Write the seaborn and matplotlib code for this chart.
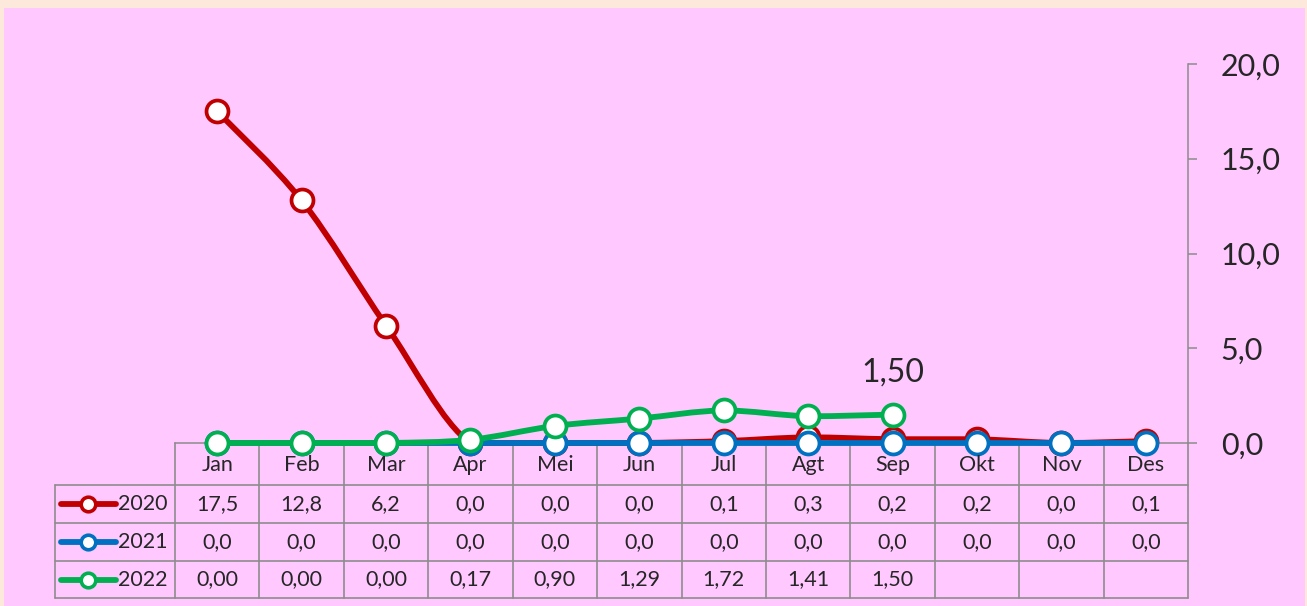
import numpy as np
import seaborn as sns
import matplotlib.pyplot as plt
import matplotlib.transforms as mtrans
from matplotlib.path import Path
from matplotlib.patches import PathPatch, Rectangle
from matplotlib.lines import Line2D
from matplotlib.ticker import FuncFormatter

# data
months = ["Jan", "Feb", "Mar", "Apr", "Mei", "Jun", "Jul", "Agt", "Sep", "Okt", "Nov", "Des"]
y2020 = [17.5, 12.8, 6.2, 0.0, 0.0, 0.0, 0.1, 0.3, 0.2, 0.2, 0.0, 0.1]
y2021 = [0.0, 0.0, 0.0, 0.0, 0.0, 0.0, 0.0, 0.0, 0.0, 0.0, 0.0, 0.0]
y2022 = [0.00, 0.00, 0.00, 0.17, 0.90, 1.29, 1.72, 1.41, 1.50]
series = [("2020", y2020, "#C00000", 1), ("2021", y2021, "#0070C0", 1), ("2022", y2022, "#00B050", 2)]

W, H = 1307, 606
GRID = "#8C8C8C"
FS = 15.5

sns.set_style("white")
plt.rcParams["font.family"] = ["Lato", "DejaVu Sans"]


def smooth_path(xs, ys):
    # catmull-rom style bezier, like excel's smoothed line; control points
    # kept inside each segment's y range so flat parts don't dip
    pts = np.column_stack([xs, ys]).astype(float)
    n = len(pts)
    verts = [pts[0]]
    codes = [Path.MOVETO]
    for i in range(n - 1):
        p0 = pts[i - 1] if i > 0 else pts[i]
        p1, p2 = pts[i], pts[i + 1]
        p3 = pts[i + 2] if i + 2 < n else p2
        c1 = p1 + (p2 - p0) / 6
        c2 = p2 - (p3 - p1) / 6
        lo, hi = min(p1[1], p2[1]), max(p1[1], p2[1])
        c1[1] = np.clip(c1[1], lo, hi)
        c2[1] = np.clip(c2[1], lo, hi)
        verts += [c1, c2, p2]
        codes += [Path.CURVE4] * 3
    return Path(verts, codes)


def fmt(v, d):
    return f"{v:.{d}f}".replace(".", ",")


fig = plt.figure(figsize=(W / 100, H / 100), dpi=100, facecolor="#FDE9DB")
fig.patches.append(Rectangle((4 / W, 0), 1301 / W, (H - 8) / H, transform=fig.transFigure,
                             facecolor="#FFC9FF", edgecolor="none", zorder=-5))

ax = fig.add_axes([175 / W, (H - 443) / H, 1013 / W, 379 / H])
ax.set_facecolor("none")
ax.set_zorder(2)

x = np.arange(len(months))
for z, (name, vals, col, dec) in enumerate(series):
    xs = x[:len(vals)]
    ax.add_patch(PathPatch(smooth_path(xs, vals), fill=False, edgecolor=col, lw=4.2,
                           capstyle="round", joinstyle="round", clip_on=False, zorder=3 + 2 * z))
    sns.scatterplot(x=xs, y=vals, ax=ax, s=250, color="white", edgecolor=col, linewidth=2.7,
                    clip_on=False, zorder=4 + 2 * z)

ax.set_xlim(-0.5, 11.5)
ax.set_ylim(0, 20)
ax.set_yticks([0, 5, 10, 15, 20])
ax.yaxis.set_major_formatter(FuncFormatter(lambda v, p: fmt(v, 1)))
ax.yaxis.tick_right()
ax.set_xticks([])
ax.tick_params(axis="y", direction="out", length=6.5, width=1.1, color=GRID,
               labelsize=22, pad=17, right=True, left=False)
for s in ["left", "top"]:
    ax.spines[s].set_visible(False)
for s in ["right", "bottom"]:
    ax.spines[s].set_color(GRID)
    ax.spines[s].set_linewidth(1.1)

ax.annotate(fmt(y2022[-1], 2), (8, y2022[-1]), xytext=(0, 30), textcoords="offset points",
            ha="center", va="center", fontsize=23)

# data table under the plot
fy = lambda py: 1 - py / H
bt = mtrans.blended_transform_factory(ax.transData, fig.transFigure)
rows = [443, 485, 523, 561, 598]


def fline(xp, yp):
    fig.add_artist(Line2D([p / W for p in xp], [fy(p) for p in yp], color=GRID, lw=1.2, zorder=1))


for yp in rows[1:]:
    fline([55, 1188], [yp, yp])
fline([55, 55], [485, 598])
fline([175, 175], [443, 598])
fline([1188, 1188], [443, 598])
for i in range(1, len(months)):
    fig.add_artist(Line2D([i - 0.5, i - 0.5], [fy(443), fy(598)], transform=bt,
                          color=GRID, lw=1.2, zorder=1))

for i, m in enumerate(months):
    fig.text(i, fy(465), m, transform=bt, ha="center", va="center", fontsize=FS)

for r, (name, vals, col, dec) in enumerate(series):
    yc = fy((rows[r + 1] + rows[r + 2]) / 2)
    for i, v in enumerate(vals):
        fig.text(i, yc, fmt(v, dec), transform=bt, ha="center", va="center", fontsize=FS)
    fig.add_artist(Line2D([61 / W, 116 / W], [yc, yc], color=col, lw=4.2,
                          solid_capstyle="round", zorder=2))
    fig.add_artist(Line2D([88 / W], [yc], marker="o", markersize=10.5, markerfacecolor="white",
                          markeredgecolor=col, markeredgewidth=2.6, zorder=3))
    fig.text(118 / W, yc, name, ha="left", va="center", fontsize=FS)

fig.savefig("out.png", dpi=100, facecolor=fig.get_facecolor())
